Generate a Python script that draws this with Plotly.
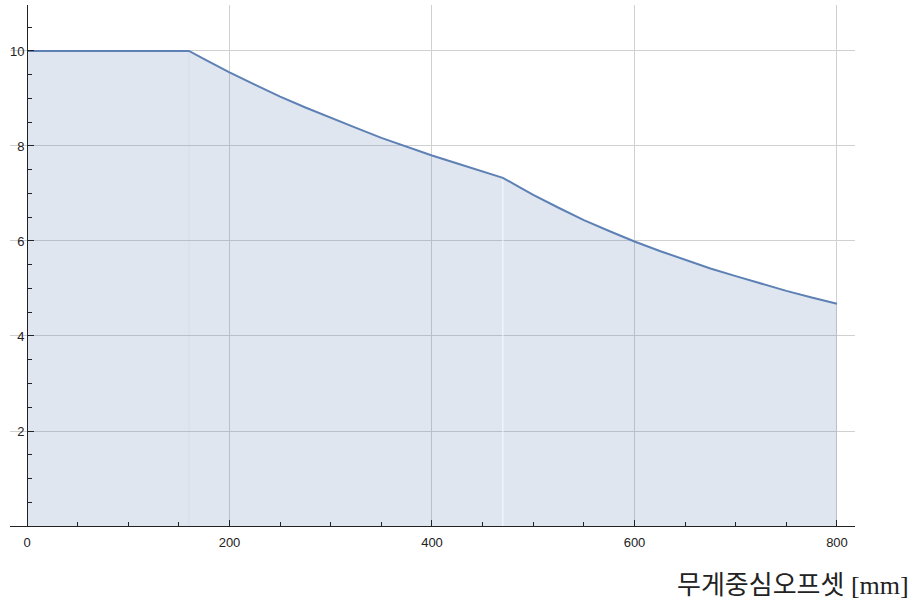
import plotly.graph_objects as go

# Data
offset_mm = [0, 160, 175, 200, 225, 250, 275, 300, 325, 350, 375, 400, 425, 450, 470,
             485, 500, 525, 550, 575, 600, 625, 650, 675, 700, 725, 750, 775, 800]
load_val = [10.0, 10.0, 9.83, 9.55, 9.29, 9.04, 8.81, 8.59, 8.38, 8.17, 7.98, 7.80, 7.63, 7.46, 7.33,
            7.15, 6.97, 6.70, 6.44, 6.21, 5.99, 5.79, 5.60, 5.42, 5.26, 5.10, 4.95, 4.81, 4.68]
breakpoints = [160, 470]  # segment joins of the piecewise curve
x_ticks = [0, 200, 400, 600, 800]
y_ticks = [2, 4, 6, 8, 10]
x_title = "무게중심오프셋 [mm]"

LINE = "#5E81B5"
FILL = "rgba(94,129,181,0.2)"

fig = go.Figure()
fig.add_trace(go.Scatter(
    x=offset_mm, y=load_val, mode="lines",
    line=dict(color=LINE, width=2),
    fill="tozeroy", fillcolor=FILL, hoverinfo="x+y", showlegend=False,
))

# seams between fill segments (as in the reference)
for bp, col in zip(breakpoints, ["rgba(150,160,180,0.07)", "rgba(255,255,255,0.85)"]):
    yv = load_val[offset_mm.index(bp)]
    fig.add_shape(type="line", x0=bp, x1=bp, y0=0, y1=yv - 0.04,
                  xref="x", yref="y", line=dict(color=col, width=1), layer="above")

W, H = 918, 609
ml, mr, mt, mb = 10, 63, 5, 83
plot_w = W - ml - mr
xr = [-16.8, 817.8]
ypos = (0 - xr[0]) / (xr[1] - xr[0])

fig.update_layout(
    width=W, height=H,
    margin=dict(l=ml, r=mr, t=mt, b=mb, pad=0, autoexpand=False),
    plot_bgcolor="white", paper_bgcolor="white",
    font=dict(family="Liberation Sans, Arial, sans-serif", size=13, color="#222222"),
    xaxis=dict(
        range=xr, tickvals=x_ticks, ticktext=[str(v) for v in x_ticks],
        showgrid=True, gridcolor="#D0D0D0", gridwidth=1,
        showline=True, linecolor="#222222", linewidth=1,
        ticks="inside", ticklen=6, tickcolor="#222222",
        minor=dict(dtick=50, tick0=0, ticks="inside", ticklen=4, tickcolor="#222222", showgrid=False),
        zeroline=False, ticklabelstandoff=4,
    ),
    yaxis=dict(
        range=[0, 10.968], tickvals=y_ticks, ticktext=[str(v) for v in y_ticks],
        showgrid=True, gridcolor="#D0D0D0", gridwidth=1,
        showline=True, linecolor="#222222", linewidth=1,
        ticks="inside", ticklen=6, tickcolor="#222222",
        minor=dict(dtick=0.5, tick0=0, ticks="inside", ticklen=4, tickcolor="#222222", showgrid=False),
        zeroline=False, anchor="free", position=ypos,
    ),
    annotations=[dict(
        text=x_title, xref="paper", yref="paper",
        x=(911 - ml) / plot_w, y=(526 - 585) / (H - mt - mb),
        xanchor="right", yanchor="middle", showarrow=False,
        font=dict(family="Liberation Serif, Noto Sans CJK KR, serif", size=26, color="#222222"),
    )],
)

fig.write_html("out.html", config={"displayModeBar": False},
               post_script="document.body.style.margin='0';document.body.style.overflow='hidden';")
